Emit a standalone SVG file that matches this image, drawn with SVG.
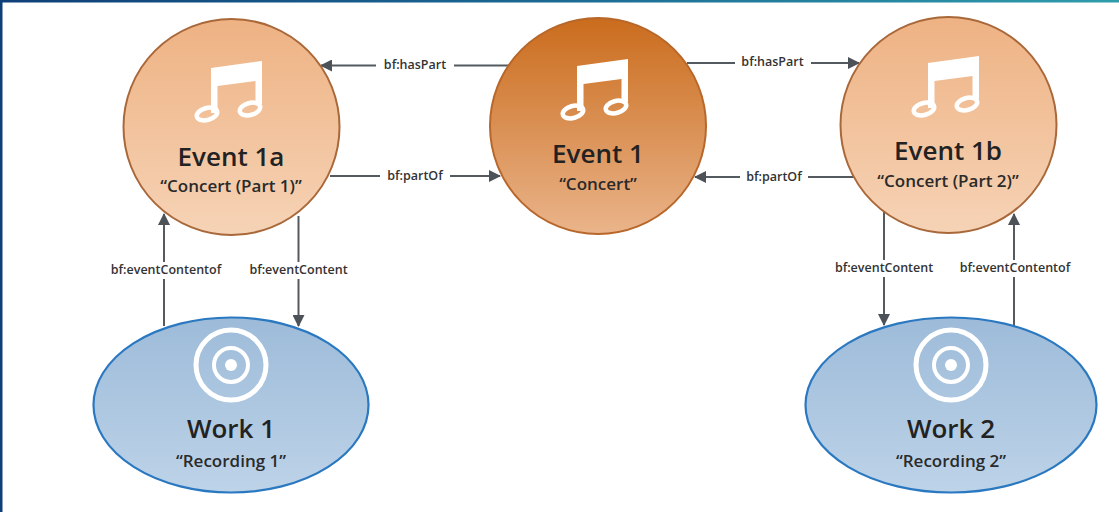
<svg xmlns="http://www.w3.org/2000/svg" width="1119" height="512" viewBox="0 0 1119 512">
<style>
.t{font-family:"Open Sans","Noto Sans","Liberation Sans",sans-serif;text-anchor:middle;fill:#222}
.h{font-size:26px;font-weight:600}
.s{font-size:17px;font-weight:600;fill:#2a2a2a}
.l{font-size:12.5px;font-weight:600;fill:#333;font-family:"Open Sans","Liberation Sans",sans-serif;text-anchor:middle}
.o{fill:url(#lo);stroke:#a9683a;stroke-width:2}
.w{fill:url(#lw);stroke:#2a78c0;stroke-width:2.2}
.c{stroke:#555a60;stroke-width:2;fill:none}
.bg{fill:#fff}
.n{fill:#fff}
.nr{fill:none;stroke:#fff;stroke-width:4.5}
</style>
<defs>
<linearGradient id="top" x1="0" x2="1" y1="0" y2="0"><stop offset="0" stop-color="#0f3f78"/><stop offset="0.5" stop-color="#1b6a94"/><stop offset="1" stop-color="#2f9cab"/></linearGradient>
<linearGradient id="lo" x1="0" x2="0" y1="0" y2="1"><stop offset="0" stop-color="#eeb283"/><stop offset="1" stop-color="#f6d3b6"/></linearGradient>
<linearGradient id="ld" x1="0" x2="0" y1="0" y2="1"><stop offset="0" stop-color="#ca6c1d"/><stop offset="1" stop-color="#eab48a"/></linearGradient>
<linearGradient id="lw" x1="0" x2="0" y1="0" y2="1"><stop offset="0" stop-color="#9dbbd9"/><stop offset="1" stop-color="#bdd3e8"/></linearGradient>
<marker id="a" viewBox="0 0 12 12" refX="11" refY="6" markerWidth="12" markerHeight="12" markerUnits="userSpaceOnUse" orient="auto"><path d="M0 0L12 6L0 12Z" fill="#4c5258"/></marker>
<g id="note">
<path class="n" d="M-19 -40L32 -47V-4H25.500V-27L-12.500 -22V5H-19Z"/>
<ellipse class="nr" cx="-23" cy="6" rx="10.500" ry="6" transform="rotate(-15 -23 6)"/>
<ellipse class="nr" cx="20" cy="1" rx="10.500" ry="6" transform="rotate(-15 20 1)"/>
</g>
<g id="disc">
<circle cx="0" cy="0" r="35" fill="none" stroke="#fff" stroke-width="5"/>
<circle cx="0" cy="0" r="17" fill="none" stroke="#fff" stroke-width="4"/>
<circle cx="0" cy="0" r="6" fill="#fff"/>
</g>
</defs>
<rect width="1119" height="512" fill="#fff"/>
<rect width="1119" height="2.500" fill="url(#top)"/>
<rect width="2.500" height="512" fill="#0f3f78"/>
<g id="connectors">
<path class="c" d="M511 65.500H321" marker-end="url(#a)"/>
<path class="c" d="M330 176H500" marker-end="url(#a)"/>
<path class="c" d="M687 63H859" marker-end="url(#a)"/>
<path class="c" d="M859 177H695" marker-end="url(#a)"/>
<path class="c" d="M164 326V214" marker-end="url(#a)"/>
<path class="c" d="M298.500 216V326" marker-end="url(#a)"/>
<path class="c" d="M884 212V325" marker-end="url(#a)"/>
<path class="c" d="M1014 353V214" marker-end="url(#a)"/>
<g>
<rect class="bg" x="376" y="57" width="78" height="16"/><text class="l" x="415" y="69">bf:hasPart</text>
<rect class="bg" x="380" y="168" width="70" height="16"/><text class="l" x="415" y="180">bf:partOf</text>
<rect class="bg" x="735" y="54" width="76" height="16"/><text class="l" x="772.500" y="66">bf:hasPart</text>
<rect class="bg" x="740" y="169" width="68" height="16"/><text class="l" x="774" y="181">bf:partOf</text>
<rect class="bg" x="104" y="262" width="122" height="17"/><text class="l" x="166" y="274">bf:eventContentof</text>
<rect class="bg" x="243" y="262" width="110" height="17"/><text class="l" x="298.500" y="274">bf:eventContent</text>
<rect class="bg" x="829" y="260" width="110" height="17"/><text class="l" x="884" y="272">bf:eventContent</text>
<rect class="bg" x="953" y="260" width="122" height="17"/><text class="l" x="1015" y="272">bf:eventContentof</text>
</g>
</g>
<g id="event1a">
<circle class="o" cx="231.500" cy="127" r="108"/>
<use href="#note" x="230" y="108"/>
<text class="t h" x="231" y="166">Event 1a</text>
<text class="t s" x="231" y="192">“Concert (Part 1)”</text>
</g>
<g id="event1">
<circle cx="598" cy="126" r="108" fill="url(#ld)" stroke="#b8672a" stroke-width="2"/>
<use href="#note" x="596" y="106"/>
<text class="t h" x="598" y="163">Event 1</text>
<text class="t s" x="598" y="190">“Concert”</text>
</g>
<g id="event1b">
<circle class="o" cx="948.500" cy="125" r="108"/>
<use href="#note" x="947" y="103"/>
<text class="t h" x="948" y="160">Event 1b</text>
<text class="t s" x="948" y="187">“Concert (Part 2)”</text>
</g>
<g id="work1">
<ellipse class="w" cx="231" cy="405" rx="137.500" ry="87.500"/>
<use href="#disc" x="231" y="365"/>
<text class="t h" x="231" y="438">Work 1</text>
<text class="t s" x="231" y="467">“Recording 1”</text>
</g>
<g id="work2">
<ellipse class="w" cx="951" cy="405" rx="145.500" ry="87.500"/>
<use href="#disc" x="951" y="365"/>
<text class="t h" x="951" y="438">Work 2</text>
<text class="t s" x="951" y="467">“Recording 2”</text>
</g>
</svg>
